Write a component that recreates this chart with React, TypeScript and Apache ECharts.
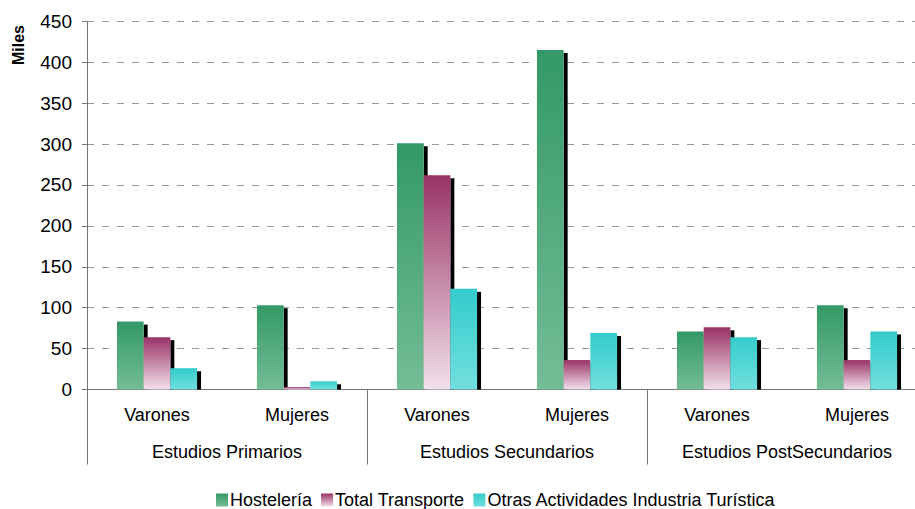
import React, { useEffect, useRef } from 'react';
import * as echarts from 'echarts';

const categories = ['Varones', 'Mujeres', 'Varones', 'Mujeres', 'Varones', 'Mujeres'];
const groups = ['Estudios Primarios', 'Estudios Secundarios', 'Estudios PostSecundarios'];
const seriesNames = ['Hostelería', 'Total Transporte', 'Otras Actividades Industria Turística'];
const hosteleria = [83, 103, 301, 415, 71, 103];
const transporte = [64, 3, 262, 36, 76, 36];
const otras = [26, 10, 123, 69, 64, 71];
const yMin = 0;
const yMax = 450;
const yInterval = 50;
const yName = 'Miles';

const FONT = '"Liberation Sans", Arial, sans-serif';
const BAR_W = 26.7;

const grad = (top: string, bottom: string) =>
  new echarts.graphic.LinearGradient(0, 0, 0, 1, [
    { offset: 0, color: top },
    { offset: 1, color: bottom },
  ]);

export default function App() {
  const ref = useRef<HTMLDivElement>(null);
  useEffect(() => {
    if (!ref.current) return;
    const chart = echarts.init(ref.current, undefined, { renderer: 'svg' });
    const colors = [
      grad('#339966', '#74BD96'),
      grad('#993366', '#F2E0EA'),
      grad('#33CCCC', '#72DEDE'),
    ];
    const values = [hosteleria, transporte, otras];
    const shadowData = categories.map((_, i) => [i, hosteleria[i], transporte[i], otras[i]]);
    chart.setOption({
      animation: false,
      textStyle: { fontFamily: FONT },
      grid: { left: 87, top: 21.3, bottom: 119.5, right: 3 },
      legend: {
        data: seriesNames,
        top: 491,
        left: 216,
        icon: 'rect',
        itemWidth: 12,
        itemHeight: 13,
        itemGap: 9,
        padding: 0,
        textStyle: { fontSize: 18, color: '#000', fontFamily: FONT, padding: [0, 0, 0, -3] },
      },
      graphic: [
        {
          type: 'text',
          x: 18,
          y: 45,
          rotation: Math.PI / 2,
          style: {
            text: yName,
            font: 'bold 16px ' + FONT,
            fill: '#000',
            align: 'center',
            verticalAlign: 'middle',
          },
        },
      ],
      xAxis: [
        {
          type: 'category',
          data: categories,
          axisLine: { show: true, lineStyle: { color: '#777', width: 1 } },
          axisTick: { show: false },
          axisLabel: { color: '#000', fontSize: 18, margin: 16, fontFamily: FONT },
        },
        {
          type: 'category',
          data: groups,
          position: 'bottom',
          axisLine: { show: false },
          axisTick: { show: true, length: 75, lineStyle: { color: '#777' } },
          axisLabel: { color: '#000', fontSize: 18, margin: 53, fontFamily: FONT },
          splitLine: { show: false },
        },
      ],
      yAxis: {
        type: 'value',
        min: yMin,
        max: yMax,
        interval: yInterval,
        axisLine: { show: true, lineStyle: { color: '#777' } },
        axisTick: { show: true, length: 5, lineStyle: { color: '#777' } },
        axisLabel: { color: '#000', fontSize: 19, margin: 15, fontFamily: FONT },
        splitLine: { show: true, lineStyle: { color: '#999', type: [7, 8], width: 1 } },
      },
      series: [
        {
          type: 'custom',
          name: 'shadow',
          z: 1,
          xAxisIndex: 0,
          encode: { x: 0, y: [1, 2, 3] },
          data: shadowData,
          silent: true,
          renderItem: (params: any, api: any) => {
            const cat = api.value(0);
            const base = api.coord([cat, 0]);
            const children = [] as any[];
            for (let k = 0; k < 3; k++) {
              const v = api.value(k + 1);
              const top = api.coord([cat, v]);
              const x = base[0] + (k - 1) * BAR_W + BAR_W / 2;
              const h = base[1] - top[1] - 3;
              if (h > 0) {
                children.push({
                  type: 'rect',
                  shape: { x, y: top[1] + 3, width: 4, height: h },
                  style: { fill: '#000' },
                });
              }
            }
            return { type: 'group', children };
          },
        },
        ...seriesNames.map((name, k) => ({
          type: 'bar',
          name,
          z: 2,
          xAxisIndex: 0,
          data: values[k],
          barWidth: BAR_W,
          barGap: '0%',
          itemStyle: { color: colors[k] },
        })),
      ],
    });
    return () => chart.dispose();
  }, []);
  return (
    <div
      style={{
        position: 'fixed',
        left: 0,
        top: 0,
        width: 915,
        height: 509,
        overflow: 'hidden',
        background: '#fff',
      }}
    >
      <div ref={ref} style={{ width: 930, height: 509 }} />
    </div>
  );
}
